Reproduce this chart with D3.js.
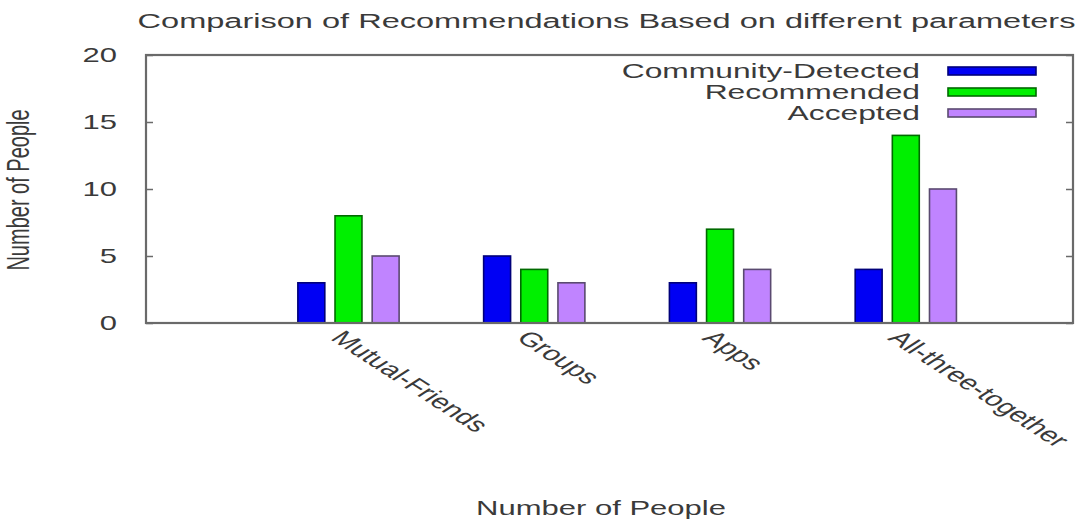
<!DOCTYPE html>
<html>
<head>
<meta charset="utf-8">
<script src="https://cdn.jsdelivr.net/npm/d3@7"></script>
<style>
  html, body { margin: 0; padding: 0; background: #fff; }
  svg { display: block; }
  text { font-family: "Liberation Sans", Arial, sans-serif; fill: #3a3a3a; }
</style>
</head>
<body>
<svg id="chart" width="1081" height="521"></svg>
<script>
// Categories and series values
const categories = ["Mutual-Friends", "Groups", "Apps", "All-three-together"];
const seriesNames = ["Community-Detected", "Recommended", "Accepted"];
const communityDetected = [3, 5, 3, 4];
const recommended = [8, 4, 7, 14];
const accepted = [5, 3, 4, 10];
const yTicks = [0, 5, 10, 15, 20];

const titleText = "Comparison of Recommendations Based on different parameters";
const xLabel = "Number of People";
const yLabel = "Number of People";

const seriesValues = [communityDetected, recommended, accepted];
const fills = ["#0000f4", "#00f000", "#c084ff"];
const strokes = ["#00007a", "#006a00", "#5a4a70"];

const svg = d3.select("#chart");
const W = 1081, H = 521;
const plot = { left: 146, right: 1073, top: 55, bottom: 323 };
const sx = 1.55; // horizontal stretch of the wide typeface

// x: categories placed at integer positions, axis spanning a little past them
const x = d3.scaleLinear().domain([-1.09, 3.9]).range([plot.left, plot.right]);
const y = d3.scaleLinear().domain([0, 20]).range([plot.bottom, plot.top]);
const unit = x(1) - x(0);
const barOffset = 0.2, barWidth = 0.145;

// helper for stretched text
function stretchedText(g, px, py, str, size, anchor, rot) {
  return g.append("text")
    .attr("transform", `translate(${px},${py}) scale(${sx},1)` + (rot ? ` rotate(${rot})` : ""))
    .attr("text-anchor", anchor || "start")
    .style("font-size", size + "px")
    .text(str);
}

// bars
const rows = [];
categories.forEach((c, ci) => {
  seriesValues.forEach((vals, si) => rows.push({ ci, si, v: vals[ci] }));
});
svg.append("g").selectAll("rect").data(rows).join("rect")
  .attr("x", d => x(d.ci + (d.si - 1) * barOffset - barWidth / 2))
  .attr("width", barWidth * unit)
  .attr("y", d => y(d.v))
  .attr("height", d => y(0) - y(d.v))
  .attr("fill", d => fills[d.si])
  .attr("stroke", d => strokes[d.si])
  .attr("stroke-width", 1.6);

// frame
svg.append("rect")
  .attr("x", plot.left).attr("y", plot.top)
  .attr("width", plot.right - plot.left).attr("height", plot.bottom - plot.top)
  .attr("fill", "none").attr("stroke", "#6a6a6a").attr("stroke-width", 2.2);

// y ticks (inward on both sides) and labels
const yAxisL = d3.axisLeft(y).tickValues(yTicks).tickSizeInner(-7).tickSizeOuter(0).tickFormat("");
const gL = svg.append("g").attr("transform", `translate(${plot.left},0)`).call(yAxisL);
const yAxisR = d3.axisRight(y).tickValues(yTicks).tickSizeInner(-7).tickSizeOuter(0).tickFormat("");
const gR = svg.append("g").attr("transform", `translate(${plot.right},0)`).call(yAxisR);
[gL, gR].forEach(g => {
  g.select(".domain").remove();
  g.selectAll("line").attr("stroke", "#6a6a6a").attr("stroke-width", 1.5);
});
const tickLabels = svg.append("g");
yTicks.forEach(t => stretchedText(tickLabels, 117, y(t) + 7, String(t), 20, "end"));

// rotated category labels
const catLabels = svg.append("g");
categories.forEach((c, i) => stretchedText(catLabels, x(i) - 19, 339, c, 20, "start", 45));

// legend
const legend = svg.append("g");
seriesNames.forEach((name, i) => {
  const cy = 71 + i * 21;
  stretchedText(legend, 920, cy + 7, name, 20.5, "end");
  legend.append("rect")
    .attr("x", 948).attr("y", cy - 4)
    .attr("width", 88).attr("height", 8)
    .attr("fill", fills[i]).attr("stroke", strokes[i]).attr("stroke-width", 1.6);
});

// titles
stretchedText(svg, W / 2 + 66, 28, titleText, 21, "middle");
stretchedText(svg, 601, 515, xLabel, 20, "middle");
stretchedText(svg, 29, 190, yLabel, 20, "middle", -90);
</script>
</body>
</html>
